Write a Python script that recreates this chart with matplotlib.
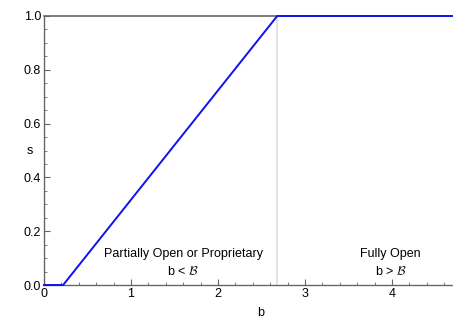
import matplotlib.pyplot as plt
from matplotlib.ticker import MultipleLocator

plt.rcParams['font.family'] = ['Liberation Sans', 'DejaVu Sans']
plt.rcParams['mathtext.fontset'] = 'cm'

# piecewise share curve s(b)
b_vals = [0.0, 0.22, 2.68, 4.7]
s_vals = [0.0, 0.0, 1.0, 1.0]
b_crit = 2.68  # threshold script-B

x_ticks = [0, 1, 2, 3, 4]
y_ticks = [0.0, 0.2, 0.4, 0.6, 0.8, 1.0]

fig = plt.figure(figsize=(4.53, 3.20), dpi=100)
ax = fig.add_axes([44 / 453, 35 / 320, 1 - 44 / 453, 269 / 320])

axis_gray = '#666666'

# gray reference lines: threshold and top bound
ax.axvline(b_crit, color='#dddddd', lw=1.2, zorder=1)
ax.plot([0, b_crit], [1.0, 1.0], color=axis_gray, lw=1.2, zorder=1, clip_on=False)

ax.plot(b_vals, s_vals, color='#1010ee', lw=1.4, zorder=3, clip_on=False)

ax.set_xlim(0, 4.7)
ax.set_ylim(0, 1.0)

ax.set_xticks(x_ticks)
ax.set_xticklabels([str(t) for t in x_ticks])
ax.set_yticks(y_ticks)
ax.set_yticklabels([f'{t:.1f}' for t in y_ticks])
ax.xaxis.set_minor_locator(MultipleLocator(0.2))
ax.yaxis.set_minor_locator(MultipleLocator(0.05))

ax.tick_params(which='major', direction='in', length=4, width=0.8, color=axis_gray,
               labelsize=9, pad=2)
ax.tick_params(which='minor', direction='in', length=2, width=0.6, color=axis_gray)

for side in ['top', 'right']:
    ax.spines[side].set_visible(False)
for side in ['left', 'bottom']:
    ax.spines[side].set_color(axis_gray)
    ax.spines[side].set_linewidth(1.0)

ax.set_xlabel('b', fontsize=9, va='top')
ax.xaxis.set_label_coords(217 / 409, -22 / 269)
ax.set_ylabel('s', fontsize=9, rotation=0, va='center', ha='center')
ax.yaxis.set_label_coords(-14 / 409, 0.5)

# region annotations
ax.text(1.6, 0.115, 'Partially Open or Proprietary', ha='center', va='center', fontsize=9)
ax.text(1.6, 0.05, r'b < $\mathcal{B}$', ha='center', va='center', fontsize=9)
ax.text(3.98, 0.115, 'Fully Open', ha='center', va='center', fontsize=9)
ax.text(3.98, 0.05, r'b > $\mathcal{B}$', ha='center', va='center', fontsize=9)

fig.savefig('out.png', dpi=100)
